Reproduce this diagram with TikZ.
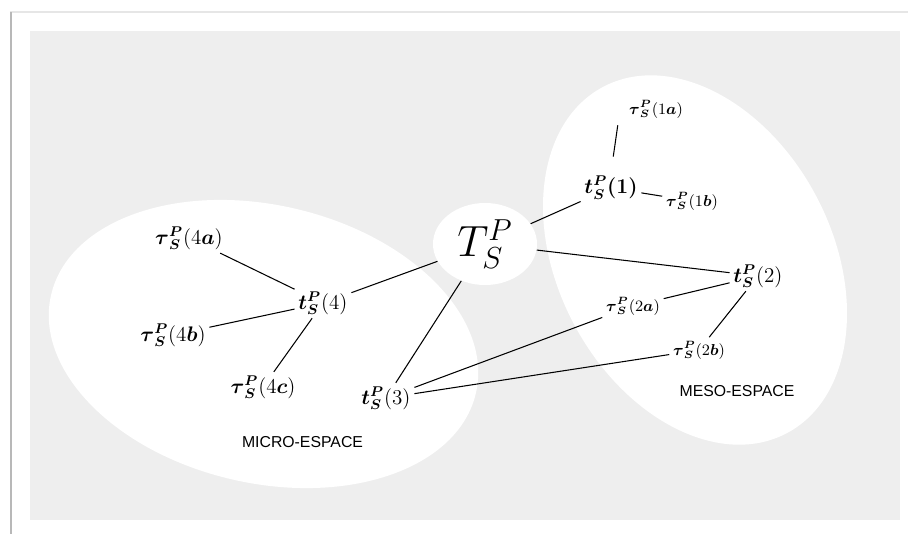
\documentclass[tikz,border=0pt]{standalone}
\usepackage{amsmath}
\usepackage{amssymb}
\usepackage{fontspec}
\setsansfont{Liberation Sans}
\usepackage{tikz}
\usetikzlibrary{positioning, calc, shapes.geometric}
\usepackage{xcolor}
\definecolor{bg-gray}{HTML}{EEEEEE}
\definecolor{edge-gray}{HTML}{B8B8B8}
\definecolor{top-gray}{HTML}{E6E6E6}

\newcommand{\tSP}[1]{\boldsymbol{t}^{\boldsymbol{P}}_{\boldsymbol{S}}(#1)}
\newcommand{\tauSP}[2]{\boldsymbol{\tau}^{\boldsymbol{P}}_{\boldsymbol{S}}(#1\boldsymbol{#2})}

\tikzset{
	tnode/.style={inner sep=2pt, font=\fontsize{12}{14}\selectfont},
	bigtau/.style={inner sep=2pt, font=\fontsize{11.5}{14}\selectfont},
	smalltau/.style={inner sep=2pt, font=\fontsize{9}{11}\selectfont},
	zonelabel/.style={font=\sffamily\fontsize{9}{11}\selectfont},
	link/.style={line width=0.6pt},
}

\begin{document}
\begin{tikzpicture}
					\useasboundingbox (0,0) rectangle (18.16,-10.68);
					\fill[white] (0,0) rectangle (18.16,-10.68);
					\draw[top-gray, line width=0.8pt] (0.20,-0.24) -- (18.16,-0.24);
					\draw[edge-gray, line width=1.1pt] (0.22,-0.24) -- (0.22,-10.68);
					\fill[bg-gray] (0.60,-0.62) rectangle (18.00,-10.40);
					
					% the two spaces
					\fill[white, rotate around={-13:(5.27,-6.88)}] (5.27,-6.88) ellipse [x radius=4.36, y radius=2.78];
					\fill[white, rotate around={28:(13.90,-5.20)}] (13.90,-5.20) ellipse [x radius=2.74, y radius=3.92];
					
					\node[ellipse, fill=white, inner sep=0pt, minimum width=2.08cm, minimum height=1.64cm, font=\fontsize{25}{30}\selectfont] at (9.70,-4.88) (T) {$T_S^P$};
					
					\node[tnode] at (12.22,-3.76) (t1) {$\boldsymbol{t_S^P(1)}$};
					\node[tnode] at (15.16,-5.52) (t2) {$\tSP{2}$};
					\node[tnode] at (7.72,-7.96) (t3) {$\tSP{3}$};
					\node[tnode] at (6.46,-6.06) (t4) {$\tSP{4}$};
					
					\node[smalltau] at (13.12,-2.18) (t1a) {$\tauSP{1}{a}$};
					\node[smalltau] at (13.84,-4.02) (t1b) {$\tauSP{1}{b}$};
					\node[smalltau] at (12.66,-6.12) (t2a) {$\tauSP{2}{a}$};
					\node[smalltau] at (13.98,-7.00) (t2b) {$\tauSP{2}{b}$};
					
					\node[bigtau] at (3.78,-4.76) (t4a) {$\tauSP{4}{a}$};
					\node[bigtau] at (3.46,-6.70) (t4b) {$\tauSP{4}{b}$};
					\node[bigtau] at (5.26,-7.74) (t4c) {$\tauSP{4}{c}$};
					
					\node[zonelabel] at (6.05,-8.85) (micro) {MICRO-ESPACE};
					\node[zonelabel] at (14.74,-7.82) (meso) {MESO-ESPACE};
					
					\foreach \a/\b in {T/t1, T/t2, T/t3, T/t4, t1/t1b, t2/t2a, t2/t2b, t3/t2a, t3/t2b, t4/t4a, t4/t4b, t4/t4c}
						\draw[link] (\a) -- (\b);
					\draw[link, shorten <=9pt, shorten >=2pt] (t1.north) -- ([xshift=-4pt]t1a.south west);
				\end{tikzpicture}
\end{document}
